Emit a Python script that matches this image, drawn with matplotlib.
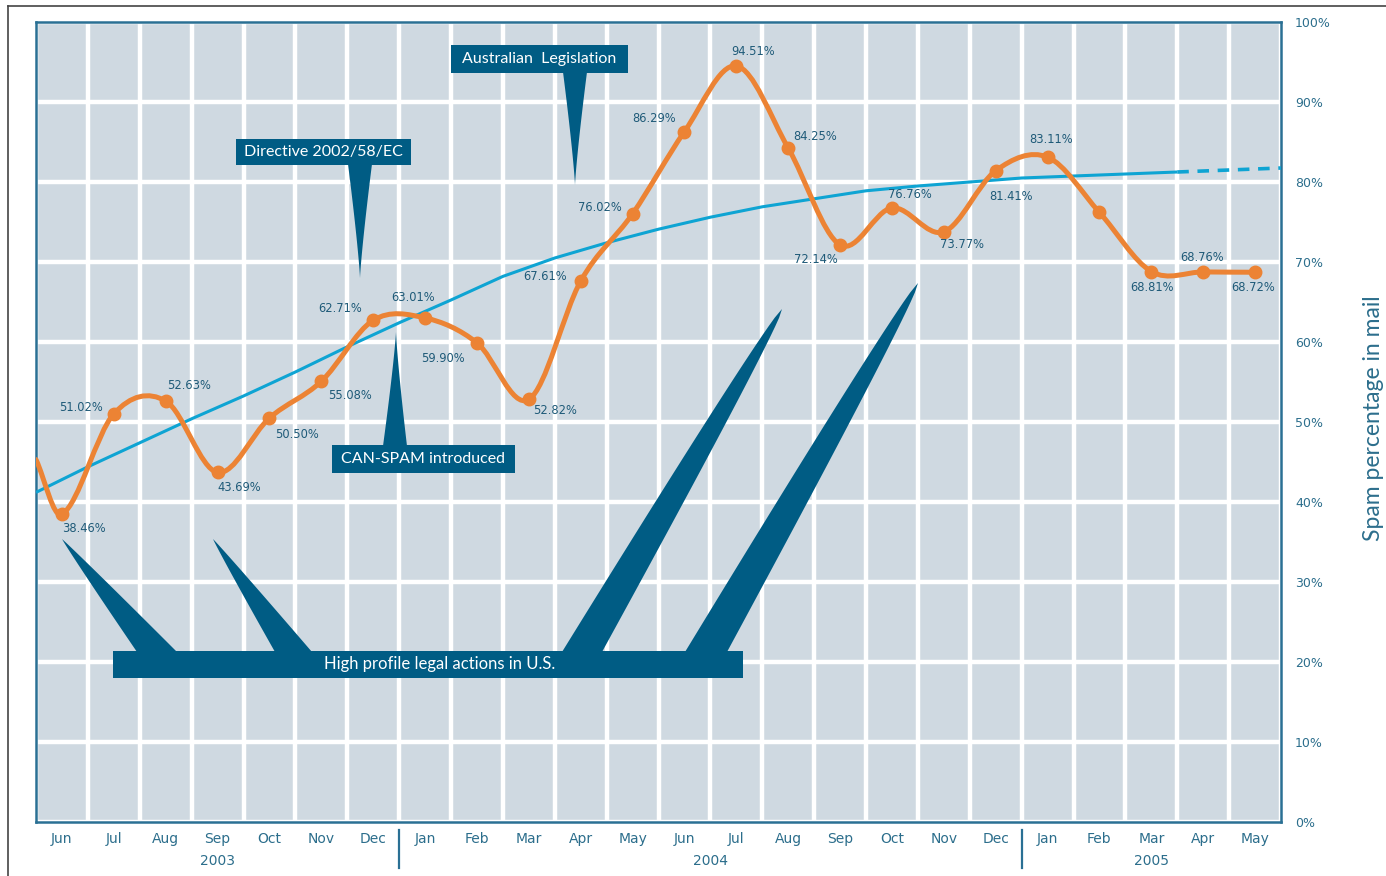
import numpy as np
import matplotlib
matplotlib.use("Agg")
import matplotlib.pyplot as plt
from matplotlib.path import Path
from matplotlib.patches import PathPatch, Rectangle, Polygon
from matplotlib.lines import Line2D
import matplotlib.transforms as mtransforms

# ---------------- data ----------------
months = ["Jun", "Jul", "Aug", "Sep", "Oct", "Nov", "Dec",
          "Jan", "Feb", "Mar", "Apr", "May", "Jun", "Jul", "Aug", "Sep", "Oct", "Nov", "Dec",
          "Jan", "Feb", "Mar", "Apr", "May"]
years = ["2003", "2004", "2005"]
year_first_month = [0, 7, 19]
year_last_month = [6, 18, 23]

spam_pct = [38.46, 51.02, 52.63, 43.69, 50.50, 55.08, 62.71,
            63.01, 59.90, 52.82, 67.61, 76.02, 86.29, 94.51, 84.25, 72.14, 76.76, 73.77, 81.41,
            83.11, 76.2, 68.81, 68.76, 68.72]
spam_labels = ["38.46%", "51.02%", "52.63%", "43.69%", "50.50%", "55.08%", "62.71%",
               "63.01%", "59.90%", "52.82%", "67.61%", "76.02%", "86.29%", "94.51%", "84.25%",
               "72.14%", "76.76%", "73.77%", "81.41%",
               "83.11%", "", "68.81%", "68.76%", "68.72%"]
curve_entry_pct = 45.3   # where the smoothed curve enters at the left edge

# trend line values at month boundaries (left edge of Jun 2003 ... right edge of May 2005)
trend_pct = [41.2, 44.4, 47.4, 50.4, 53.25, 56.25, 59.4, 62.4, 65.25, 68.2, 70.5, 72.4,
             74.1, 75.6, 76.9, 77.9, 78.9, 79.5, 80.0, 80.5, 80.75, 81.0, 81.25, 81.5, 81.75]
trend_dashed_from = 22

ytick_vals = [0, 10, 20, 30, 40, 50, 60, 70, 80, 90, 100]
ytick_labels = ["0%", "10%", "20%", "30%", "40%", "50%", "60%", "70%", "80%", "90%", "100%"]

# label offsets (pixels) relative to each point
label_dx = [22, -33, 23, 22, 28, 29, -33, -12, -34, 26, -36, -33, -30, 17, 27, -24, 18, 18, 15, 4, 0, 1, -1, -2]
label_dy = [-14, 6, 15, -15, -17, -14, 12, 20, -16, -11, 5, 6, 13, 14, 12, -15, 13, -13, -26, 18, 0, -16, 14, -15]

# ---------------- style ----------------
BG = "#cfd9e1"
NAVY = "#005c84"
ORANGE = "#ec8334"
TREND = "#0ea4d3"
TXT = "#1e5a78"
TICK = "#2c6e8c"
SPINE = "#2a7094"
BOXFONT = ["Lato", "DejaVu Sans"]

W, H = 1386, 876
fig = plt.figure(figsize=(W / 100, H / 100), dpi=100)
L, R, T, B = 36, 1281, 22, 822
ax = fig.add_axes([L / W, 1 - B / H, (R - L) / W, (B - T) / H])
ax.set_facecolor(BG)
ax.set_xlim(-0.5, 23.5)
ax.set_ylim(0, 100)

def px2x(px):
    return (px - L) / ((R - L) / 24.0) - 0.5

def px2y(py):
    return (B - py) / ((B - T) / 100.0)

# grid
ax.set_xticks(np.arange(-0.5, 24, 1), minor=True)
ax.set_xticks(np.arange(len(months)))
ax.set_xticklabels(months, fontsize=10, color=TICK)
ax.set_yticks(ytick_vals)
ax.set_yticklabels(ytick_labels, fontsize=9, color=TICK)
ax.yaxis.tick_right()
ax.grid(which="minor", axis="x", color="white", lw=3.2)
ax.grid(which="major", axis="y", color="white", lw=3.2)
ax.grid(which="major", axis="x", visible=False)
ax.set_axisbelow(True)
ax.tick_params(which="both", length=0)
ax.tick_params(axis="x", pad=7)
ax.tick_params(axis="y", pad=10)
for s in ax.spines.values():
    s.set_color(SPINE)
    s.set_linewidth(1.8)

# trend line
tx = np.arange(len(trend_pct)) - 0.5
ax.plot(tx[:trend_dashed_from + 1], trend_pct[:trend_dashed_from + 1], color=TREND, lw=2.2, zorder=3,
        solid_capstyle="butt")
ax.plot(tx[trend_dashed_from:], trend_pct[trend_dashed_from:], color=TREND, lw=2.6, zorder=3,
        dashes=(3.2, 2.4))

# smoothed spam curve (Catmull-Rom as cubic Bezier path)
xs = np.concatenate([[-0.5], np.arange(len(spam_pct))]).astype(float)
ys = np.concatenate([[curve_entry_pct], spam_pct]).astype(float)
n = len(xs)
m = np.zeros(n)
for i in range(n):
    if i == 0:
        m[i] = (ys[1] - ys[0]) / (xs[1] - xs[0])
    elif i == n - 1:
        m[i] = 0.0
    else:
        m[i] = (ys[i + 1] - ys[i - 1]) / (xs[i + 1] - xs[i - 1])
verts = [(xs[0], ys[0])]
codes = [Path.MOVETO]
for i in range(n - 1):
    h = xs[i + 1] - xs[i]
    verts += [(xs[i] + h / 3, ys[i] + m[i] * h / 3),
              (xs[i + 1] - h / 3, ys[i + 1] - m[i + 1] * h / 3),
              (xs[i + 1], ys[i + 1])]
    codes += [Path.CURVE4] * 3
ax.add_patch(PathPatch(Path(verts, codes), fill=False, edgecolor=ORANGE, lw=3.6, zorder=4,
                       capstyle="round", joinstyle="round"))
ax.plot(np.arange(len(spam_pct)), spam_pct, "o", ms=9, color=ORANGE, zorder=5)

for i, (v, lab) in enumerate(zip(spam_pct, spam_labels)):
    if lab:
        ax.annotate(lab, (i, v), xytext=(label_dx[i], label_dy[i]), textcoords="offset pixels",
                    ha="center", va="center", fontsize=8.3, color=TXT, zorder=6)

# ---------------- callouts ----------------
def horn(tip, base_y, bl, br, power=0.8, npts=40):
    t = np.linspace(0, 1, npts)
    midx = (bl + br) / 2.0
    half = (br - bl) / 2.0
    cx = tip[0] + t * (midx - tip[0])
    cy = tip[1] + t * (base_y - tip[1])
    w = half * t ** power
    left = np.column_stack([cx - w, cy])
    right = np.column_stack([cx + w, cy])[::-1]
    return np.vstack([left, right])

def box(x0, x1, y_top, y_bot, text, tx, ty, fs=11.5):
    ax.add_patch(Rectangle((px2x(x0), px2y(y_bot)), px2x(x1) - px2x(x0), px2y(y_top) - px2y(y_bot),
                           facecolor=NAVY, edgecolor="none", zorder=7))
    ax.text(px2x(tx), px2y(ty), text, ha="center", va="center", color="white", fontsize=fs,
            family=BOXFONT, zorder=8)

def spike(tip_px, base_py, bl_px, br_px, power):
    pts = horn((px2x(tip_px[0]), px2y(tip_px[1])), px2y(base_py), px2x(bl_px), px2x(br_px), power)
    ax.add_patch(Polygon(pts, closed=True, facecolor=NAVY, edgecolor="none", zorder=7))

# Australian Legislation
box(451, 628, 45, 73, "Australian  Legislation", 539, 59)
spike((575, 185), 72, 563, 587, 1.2)
# Directive
box(236, 411, 139, 165, "Directive 2002/58/EC", 323, 152)
spike((360, 278), 164, 348, 372, 1.2)
# CAN-SPAM
box(332, 515, 445, 473, "CAN-SPAM introduced", 423, 459)
spike((396, 332), 446, 383, 407, 1.2)
# High profile legal actions
box(113, 743, 651, 678, "High profile legal actions in U.S.", 440, 664, fs=12)
spike((62, 539), 652, 137, 177, 0.9)
spike((213, 539), 652, 275, 312, 0.9)
spike((782, 309), 652, 562, 602, 0.6)
spike((918, 283), 652, 685, 727, 0.6)

# ---------------- year labels / separators ----------------
trans = mtransforms.blended_transform_factory(ax.transData, ax.transAxes)
for yr, a, b in zip(years, year_first_month, year_last_month):
    ax.text((a + b) / 2.0, -(861 - B) / (B - T), yr, transform=trans, ha="center", va="center",
            fontsize=10, color=TICK)
for a in year_first_month[1:]:
    ax.add_line(Line2D([a - 0.5, a - 0.5], [-(830 - B) / (B - T), -(868 - B) / (B - T)],
                       transform=trans, color=SPINE, lw=1.6, clip_on=False))

# y axis title
fig.text(1384 / W, 1 - 418 / H, "Spam percentage in mail", rotation=90, ha="right", va="center",
         fontsize=16.5, color=TICK, family=["Lato", "DejaVu Sans"])

# outer frame (top and left)
fig.add_artist(Line2D([8 / W, 1], [1 - 6 / H, 1 - 6 / H], transform=fig.transFigure, color="#444444", lw=1.2))
fig.add_artist(Line2D([8 / W, 8 / W], [0, 1 - 6 / H], transform=fig.transFigure, color="#444444", lw=1.2))

fig.savefig("out.png", dpi=100, facecolor="white")
